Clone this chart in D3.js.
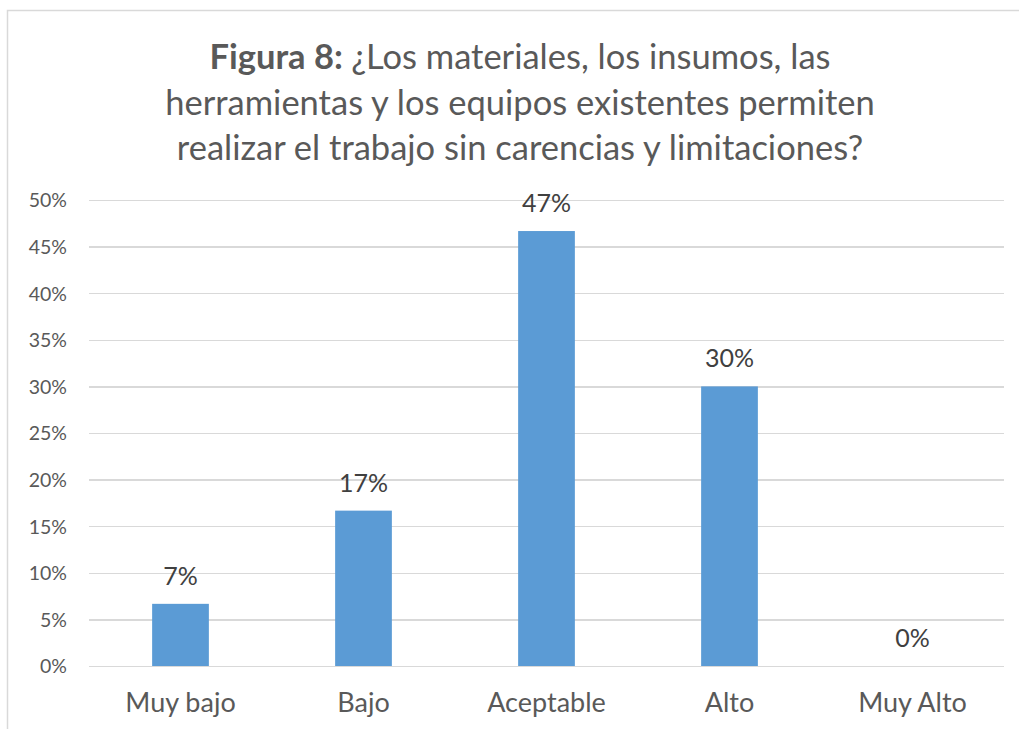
<!DOCTYPE html>
<meta charset="utf-8">
<style>
body { margin: 0; background: #fff; }
svg { display: block; }
svg text { font-family: Lato, "Open Sans", sans-serif; }
.grid line { stroke: #d9d9d9; stroke-width: 1.3; shape-rendering: crispEdges; }
.grid path { display: none; }
.yaxis path, .yaxis line, .xaxis path, .xaxis line { display: none; }
.yaxis text { fill: #595959; font-size: 19.5px; }
.xaxis text { fill: #595959; font-size: 27px; }
.label { fill: #404040; font-size: 25px; }
.title { fill: #595959; font-size: 34.5px; }
</style>
<svg width="1019" height="729"></svg>
<script src="https://cdn.jsdelivr.net/npm/d3@7"></script>
<script>

var categories = ["Muy bajo", "Bajo", "Aceptable", "Alto", "Muy Alto"];
var values = [0.0667, 0.1667, 0.4667, 0.30, 0];
var labels = ["7%", "17%", "47%", "30%", "0%"];
var yTicks = [0, 0.05, 0.1, 0.15, 0.2, 0.25, 0.3, 0.35, 0.4, 0.45, 0.5];
var titleLines = [
  [["Figura 8: ", true], ["¿Los materiales, los insumos, las", false]],
  [["herramientas y los equipos existentes permiten", false]],
  [["realizar el trabajo sin carencias y limitaciones?", false]]
];

var svg = d3.select("svg");

// chart frame (only left and top edges visible in the crop)
svg.append("rect")
    .attr("x", 7.5).attr("y", 10.5)
    .attr("width", 1030).attr("height", 740)
    .attr("fill", "none").attr("stroke", "#d9d9d9").attr("stroke-width", 1.5);

var plotLeft = 89, plotRight = 1004, plotTop = 200, plotBottom = 666;

var x = d3.scaleBand().domain(categories).range([plotLeft, plotRight]).paddingInner(0.69).paddingOuter(0.345);
var y = d3.scaleLinear().domain([0, 0.5]).range([plotBottom, plotTop]);

svg.append("g").attr("class", "grid")
    .attr("transform", "translate(" + plotLeft + ",0)")
    .call(d3.axisLeft(y).tickValues(yTicks).tickSize(-(plotRight - plotLeft)).tickFormat(""));

svg.append("g").attr("class", "yaxis")
    .attr("transform", "translate(" + (plotLeft - 22) + ",0)")
    .call(d3.axisLeft(y).tickValues(yTicks).tickSize(0).tickPadding(0).tickFormat(d3.format(".0%")))
    .selectAll("text").attr("dy", "0.35em");

svg.append("g").attr("class", "xaxis")
    .attr("transform", "translate(0," + plotBottom + ")")
    .call(d3.axisBottom(x).tickSize(0).tickPadding(27));

svg.append("g").selectAll("rect").data(values).enter()
    .append("rect")
    .attr("x", function(d, i) { return x(categories[i]); })
    .attr("y", function(d) { return y(d); })
    .attr("width", x.bandwidth())
    .attr("height", function(d) { return plotBottom - y(d); })
    .attr("fill", "#5b9bd5");

svg.append("g").selectAll("text").data(values).enter()
    .append("text").attr("class", "label")
    .attr("x", function(d, i) { return x(categories[i]) + x.bandwidth() / 2; })
    .attr("y", function(d) { return y(d) - 19; })
    .attr("text-anchor", "middle")
    .text(function(d, i) { return labels[i]; });

var title = svg.append("text").attr("class", "title").attr("text-anchor", "middle");
titleLines.forEach(function(line, i) {
  var t = title.append("tspan").attr("x", 520).attr("y", 69 + i * 45.5);
  line.forEach(function(part) {
    t.append("tspan").attr("font-weight", part[1] ? "bold" : null).text(part[0]);
  });
});
</script>
